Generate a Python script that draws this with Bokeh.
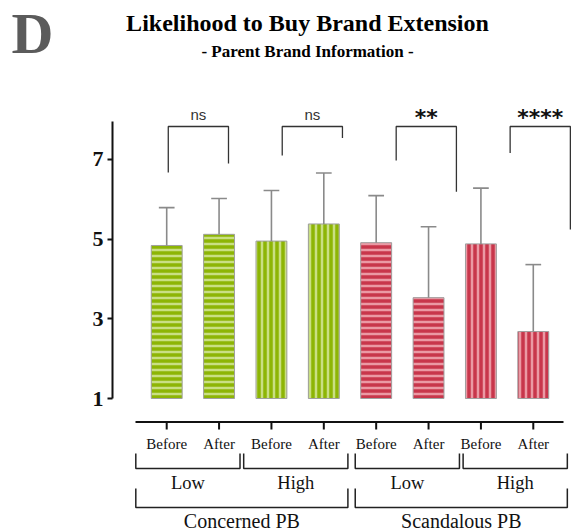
from bokeh.plotting import figure
from bokeh.models import Range1d, FixedTicker, LinearAxis, ColumnDataSource
from bokeh.core.properties import value
from bokeh.embed import file_html
from bokeh.resources import INLINE

# ---------------- data ----------------
pb_groups = ["Concerned PB", "Scandalous PB"]
info_levels = ["Low", "High"]
times = ["Before", "After"]
means = [4.84, 5.12, 4.95, 5.38, 4.91, 3.53, 4.88, 2.68]
sds = [0.95, 0.90, 1.27, 1.28, 1.18, 1.78, 1.40, 1.68]
significance = ["ns", "ns", "**", "****"]
y_ticks = [1, 3, 5, 7]
title_text = "Likelihood to Buy Brand Extension"
subtitle_text = "- Parent Brand Information -"
panel_letter = "D"

# ---------------- layout helpers (pixel -> data) ----------------
X0, DX, Y1, DY = 166.2, 52.37, 398.0, 39.85
def xd(px): return (px - X0) / DX
def yd(py): return 1 + (Y1 - py) / DY
def ytxt(baseline_px, fs): return yd(baseline_px - 0.42 * fs)

SERIF = value("Liberation Serif")
SANS = value("Liberation Sans")

base_col = {"Concerned PB": "#8db505", "Scandalous PB": "#c8364b"}
stripe_col = {"Concerned PB": "#c9df83", "Scandalous PB": "#eb99a4"}
pattern = {"Low": "horizontal_line", "High": "vertical_line"}

xs, fills, hatches, hcols, labels = [], [], [], [], []
i = 0
for pb in pb_groups:
    for lv in info_levels:
        for t in times:
            xs.append(i)
            fills.append(base_col[pb])
            hatches.append(pattern[lv])
            hcols.append(stripe_col[pb])
            labels.append(t)
            i += 1
upper = [m + s for m, s in zip(means, sds)]

src = ColumnDataSource(dict(x=xs, top=means, fill=fills, hatch=hatches,
                            hcol=hcols, upper=upper, label=labels))

p = figure(width=577, height=531, x_range=Range1d(xd(112), xd(577)),
           y_range=Range1d(yd(531), yd(0)), output_backend="svg",
           toolbar_location=None, x_axis_location=None,
           min_border_left=112, min_border_right=0, min_border_top=0,
           min_border_bottom=0)
p.outline_line_color = None
p.grid.visible = False
p.background_fill_color = "white"

# y axis
ya = p.yaxis[0]
ya.ticker = FixedTicker(ticks=y_ticks)
ya.bounds = (1, 7.95)
ya.axis_line_width = 2
ya.axis_line_color = "#111111"
ya.major_tick_line_width = 2
ya.major_tick_line_color = "#111111"
ya.major_tick_in = 0
ya.major_tick_out = 5
ya.minor_tick_line_color = None
ya.major_label_text_font = "Liberation Serif"
ya.major_label_text_font_style = "bold"
ya.major_label_text_font_size = "22px"
ya.major_label_text_color = "#111111"
ya.major_label_standoff = 4

# panel letter, carried by an outer left axis with a single labelled tick
d_tick = round(yd(33), 3)
d_axis = LinearAxis(ticker=FixedTicker(ticks=[d_tick]),
                    major_label_overrides={d_tick: panel_letter},
                    axis_line_color=None, major_tick_line_color=None,
                    minor_tick_line_color=None, major_tick_out=0, major_tick_in=0,
                    major_label_text_font="Liberation Serif",
                    major_label_text_font_style="bold",
                    major_label_text_font_size="58px",
                    major_label_text_color="#5b5b5b",
                    major_label_standoff=36)
p.add_layout(d_axis, "left")

# bars
p.vbar(x="x", top="top", bottom=1, width=0.59, source=src,
       fill_color="fill", line_color="#a0a0a0", line_width=1,
       hatch_pattern="hatch", hatch_color="hcol", hatch_scale=6,
       hatch_weight=2.5)

# error bars (upper only)
p.segment(x0="x", y0="top", x1="x", y1="upper", source=src,
          line_color="#8a8a8a", line_width=1.6)
cap = 0.15
p.segment(x0=[x - cap for x in xs], y0=upper, x1=[x + cap for x in xs],
          y1=upper, line_color="#8a8a8a", line_width=1.6)

# significance brackets
top_y = yd(126)
bx, by, tx = [], [], []
for k, sig in enumerate(significance):
    a, b = 2 * k, 2 * k + 1
    L = a * 1.088 + 0.03
    R = L + 1.15
    bx.append([L, L, R, R])
    by.append([upper[a] + 0.88, top_y, top_y, upper[b] + 0.88])
    tx.append((L + R) / 2)
p.multi_line(xs=bx, ys=by, line_color="#333333", line_width=1.3)
ns_idx = [k for k, s in enumerate(significance) if s == "ns"]
st_idx = [k for k, s in enumerate(significance) if s != "ns"]
p.text(x=[tx[k] for k in ns_idx], y=yd(114), text=[significance[k] for k in ns_idx],
       text_font=SANS, text_font_size="15px", text_color="#333333",
       text_align="center", text_baseline="middle")
p.text(x=[tx[k] for k in st_idx], y=yd(116.5), text=[significance[k] for k in st_idx],
       text_font=value("DejaVu Sans"), text_font_style="bold", text_font_size="22px",
       text_color="#111111", text_align="center", text_baseline="middle")

# x axis (drawn)
p.segment(x0=[xd(135)], y0=[yd(421.5)], x1=[xd(563)], y1=[yd(421.5)],
          line_color="#111111", line_width=2)
p.segment(x0=xs, y0=yd(421.5), x1=xs, y1=yd(429), line_color="#111111", line_width=2)
p.text(x="x", y=ytxt(450, 15), text="label", source=src, text_font=SERIF,
       text_font_size="15px", text_color="#111111", text_align="center",
       text_baseline="middle")

# group brackets
g_left, g_right, g_names = [], [], []
g = 0
for pi, pb in enumerate(pb_groups):
    for lv in info_levels:
        i0 = 2 * g
        L = i0 - 0.59 + 0.06 * g + (0.07 if pi == 1 else 0)
        g_left.append(L)
        g_right.append(L + 1.99)
        g_names.append(lv)
        g += 1
p.multi_line(xs=[[L, L, R, R] for L, R in zip(g_left, g_right)],
             ys=[[yd(453), yd(468), yd(468), yd(453)]] * len(g_left),
             line_color="#222222", line_width=1.5)
p.text(x=[(L + R) / 2 for L, R in zip(g_left, g_right)], y=ytxt(490, 18.5), text=g_names,
       text_font=SERIF, text_font_size="18.5px", text_color="#111111",
       text_align="center", text_baseline="middle")

pb_left = [g_left[0], g_left[2]]
pb_right = [g_right[1], g_right[3]]
p.multi_line(xs=[[L, L, R, R] for L, R in zip(pb_left, pb_right)],
             ys=[[yd(488), yd(507), yd(507), yd(488)]] * 2,
             line_color="#222222", line_width=1.5)
p.text(x=[(L + R) / 2 for L, R in zip(pb_left, pb_right)], y=ytxt(529, 20), text=pb_groups,
       text_font=SERIF, text_font_size="20px", text_color="#111111",
       text_align="center", text_baseline="middle")

# titles
p.text(x=[xd(307)], y=[ytxt(33, 24)], text=[title_text], text_font=SERIF,
       text_font_style="bold", text_font_size="24px", text_color="#000000",
       text_align="center", text_baseline="middle")
p.text(x=[xd(307)], y=[ytxt(58, 17)], text=[subtitle_text], text_font=SERIF,
       text_font_style="bold", text_font_size="17px", text_color="#000000",
       text_align="center", text_baseline="middle")

open("out.html", "w").write(file_html(p, INLINE))
